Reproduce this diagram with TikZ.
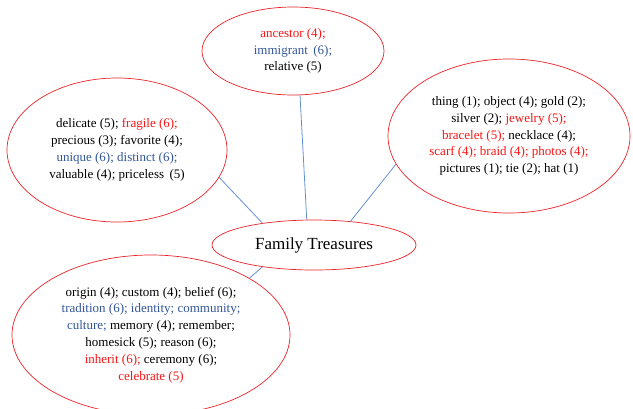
\documentclass[tikz,border=0pt]{standalone}
\usepackage{fontspec}
\setmainfont{Liberation Serif}
\usepackage{tikz}
\usetikzlibrary{shapes}
\definecolor{rimred}{RGB}{235,35,40}
\definecolor{linkblue}{RGB}{100,145,210}
\definecolor{wordred}{RGB}{250,20,20}
\definecolor{wordblue}{RGB}{50,86,152}
\tikzstyle{bubble} = [draw=rimred, line width=0.7pt, ellipse, inner sep=0pt, align=center, font=\fontsize{13}{16.8}\selectfont]
\tikzstyle{link} = [draw=linkblue, line width=0.8pt]
\newcommand{\rw}[1]{\textcolor{wordred}{#1}}
\newcommand{\bw}[1]{\textcolor{wordblue}{#1}}

\begin{document}
\begin{tikzpicture}[x=1pt, y=-1pt, thin]

  % fixed frame, same size as the page
  \useasboundingbox (0,0) rectangle (633,408);
  \clip (0,0) rectangle (633,408);

    \node [bubble, minimum width=204pt, minimum height=50pt, font=\fontsize{17}{20}\selectfont] (treasure) at (314,245) {Family Treasures};
    \node [bubble, minimum width=182pt, minimum height=88pt] (people) at (293,51)
      {\rw{ancestor (4);}\\ \bw{immigrant\, (6);}\\ relative (5)};
    \node [bubble, minimum width=220pt, minimum height=144pt] (quality) at (117,150)
      {delicate (5); \rw{fragile (6);}\\ precious (3); favorite (4);\\ \bw{unique (6); distinct (6);}\\ valuable (4); priceless\, (5)};
    \node [bubble, minimum width=242pt, minimum height=154pt] (objects) at (509,136)
      {thing (1); object (4); gold (2);\\ silver (2); \rw{jewelry (5);}\\ \rw{bracelet (5);} necklace (4);\\ \rw{scarf (4); braid (4); photos (4);}\\ pictures (1); tie (2); hat (1)};
    \node [bubble, minimum width=278pt, minimum height=160pt] (heritage) at (151,335)
      {origin (4); custom (4); belief (6);\\ \bw{tradition (6); identity; community;}\\ \bw{culture;} memory (4); remember;\\ homesick (5); reason (6);\\ \rw{inherit (6);} ceremony (6);\\ \rw{celebrate (5)}};

% spokes out of the middle
    \draw [link] (treasure.106) -- (people.-81);
    \draw [link] (treasure.157) -- (quality.-15);
    \draw [link] (treasure.33) -- (objects.194);
    \draw [link] (treasure.203) -- (heritage.30);

  \end{tikzpicture}
\end{document}
